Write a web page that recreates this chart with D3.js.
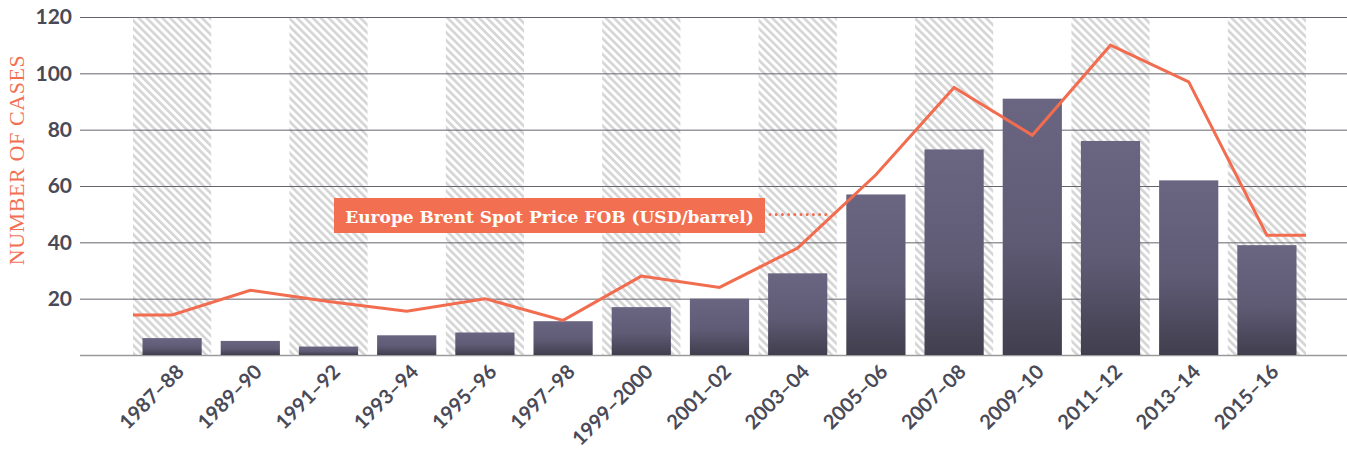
<!DOCTYPE html>
<html>
<head>
<meta charset="utf-8">
<script src="https://cdn.jsdelivr.net/npm/d3@7"></script>
<style>
  body { margin: 0; background: #fff; }
  .tick text { font-family: Lato, sans-serif; font-weight: 700; fill: #4a4a57; }
</style>
</head>
<body>
<div id="chart-area"></div>
<script>
// data
const periods = ["1987–88", "1989–90", "1991–92", "1993–94", "1995–96", "1997–98", "1999–2000",
    "2001–02", "2003–04", "2005–06", "2007–08", "2009–10", "2011–12", "2013–14", "2015–16"];
const cases = [6, 5, 3, 7, 8, 12, 17, 20, 29, 57, 73, 91, 76, 62, 39];
const brentPrice = [14.2, 23, 19, 15.5, 20, 12.3, 28, 24, 38, 64, 95, 78, 110, 97, 42.5];
const yTicks = [20, 40, 60, 80, 100, 120];
const lineLabel = "Europe Brent Spot Price FOB (USD/barrel)";

const W = 1347, H = 450;
const y0 = 355, yTop = 17;

const svg = d3.select("#chart-area").append("svg")
    .attr("width", W)
    .attr("height", H);

const defs = svg.append("defs");

// diagonal hatch for alternate periods
const pat = defs.append("pattern")
    .attr("id", "hatch")
    .attr("patternUnits", "userSpaceOnUse")
    .attr("width", 5.6)
    .attr("height", 5.6)
    .attr("patternTransform", "rotate(-45)");
pat.append("rect").attr("width", 5.6).attr("height", 5.6).attr("fill", "#fff");
pat.append("rect").attr("width", 2.6).attr("height", 5.6).attr("fill", "#d4d4d4");

const grad = defs.append("linearGradient")
    .attr("id", "barGrad")
    .attr("x1", 0).attr("y1", 0).attr("x2", 0).attr("y2", 1);
grad.append("stop").attr("offset", "0%").attr("stop-color", "#6a6682");
grad.append("stop").attr("offset", "55%").attr("stop-color", "#5f5b75");
grad.append("stop").attr("offset", "100%").attr("stop-color", "#413e4e");

const x = d3.scaleBand()
    .domain(periods)
    .range([133, 1306])
    .padding(0);

const y = d3.scaleLinear()
    .domain([0, 120])
    .range([y0, yTop]);

// hatched bands
svg.append("g").selectAll("rect")
    .data(periods.filter((d, i) => i % 2 === 0))
    .join("rect")
    .attr("x", d => x(d))
    .attr("y", y(120))
    .attr("width", x.bandwidth())
    .attr("height", y(0) - y(120))
    .attr("fill", "url(#hatch)");

// grid lines + y labels
const yAxis = svg.append("g")
    .attr("transform", "translate(80,0)")
    .call(d3.axisLeft(y).tickValues(yTicks).tickSize(-(W - 80)).tickPadding(8));
yAxis.select(".domain").remove();
yAxis.selectAll(".tick line").attr("stroke", "#66656f").attr("stroke-width", 1);
yAxis.selectAll(".tick text").attr("font-size", "21px").attr("x", -8);

svg.append("line")
    .attr("x1", 80).attr("x2", W)
    .attr("y1", y(0) + 0.5).attr("y2", y(0) + 0.5)
    .attr("stroke", "#9a9a9a")
    .attr("stroke-width", 1.5);

// bars
const inset = 9.5;
svg.append("g").selectAll("rect")
    .data(cases)
    .join("rect")
    .attr("x", (d, i) => x(periods[i]) + inset)
    .attr("y", d => y(d))
    .attr("width", x.bandwidth() - 2 * inset)
    .attr("height", d => y(0) - y(d))
    .attr("fill", "url(#barGrad)");

// x labels
const xAxis = svg.append("g")
    .attr("transform", "translate(0," + y0 + ")")
    .call(d3.axisBottom(x).tickSize(0).tickPadding(0));
xAxis.select(".domain").remove();
xAxis.selectAll(".tick text")
    .attr("font-size", "20px")
    .attr("text-anchor", "end")
    .attr("dy", 0)
    .attr("y", 0)
    .attr("transform", "translate(13,18) rotate(-45)");

// price line, flat to the band edges at both ends
const pts = brentPrice.map((v, i) => [x(periods[i]) + x.bandwidth() / 2, y(v)]);
pts.unshift([x(periods[0]), y(brentPrice[0])]);
pts.push([x(periods[periods.length - 1]) + x.bandwidth(), y(brentPrice[brentPrice.length - 1])]);

svg.append("path")
    .datum(pts)
    .attr("fill", "none")
    .attr("stroke", "#f26c4f")
    .attr("stroke-width", 3)
    .attr("stroke-linejoin", "miter")
    .attr("d", d3.line());

// annotation
const ann = svg.append("g");
ann.append("line")
    .attr("x1", 770).attr("x2", 828)
    .attr("y1", 214.5).attr("y2", 214.5)
    .attr("stroke", "#f26c4f")
    .attr("stroke-width", 3)
    .attr("stroke-linecap", "round")
    .attr("stroke-dasharray", "0,6.2");
ann.append("rect")
    .attr("x", 334).attr("y", 198)
    .attr("width", 431).attr("height", 35)
    .attr("fill", "#f26f52");
ann.append("text")
    .attr("x", 549.5).attr("y", 222.5)
    .attr("text-anchor", "middle")
    .attr("fill", "#fff")
    .attr("font-family", "DejaVu Serif, serif")
    .attr("font-weight", 700)
    .attr("font-size", "17px")
    .text(lineLabel);

// y title
svg.append("text")
    .attr("transform", "translate(24,160) rotate(-90)")
    .attr("text-anchor", "middle")
    .attr("fill", "#f26f52")
    .attr("font-family", "Liberation Serif, serif")
    .attr("font-size", "22px")
    .attr("letter-spacing", "0.6px")
    .text("NUMBER OF CASES");
</script>
</body>
</html>
